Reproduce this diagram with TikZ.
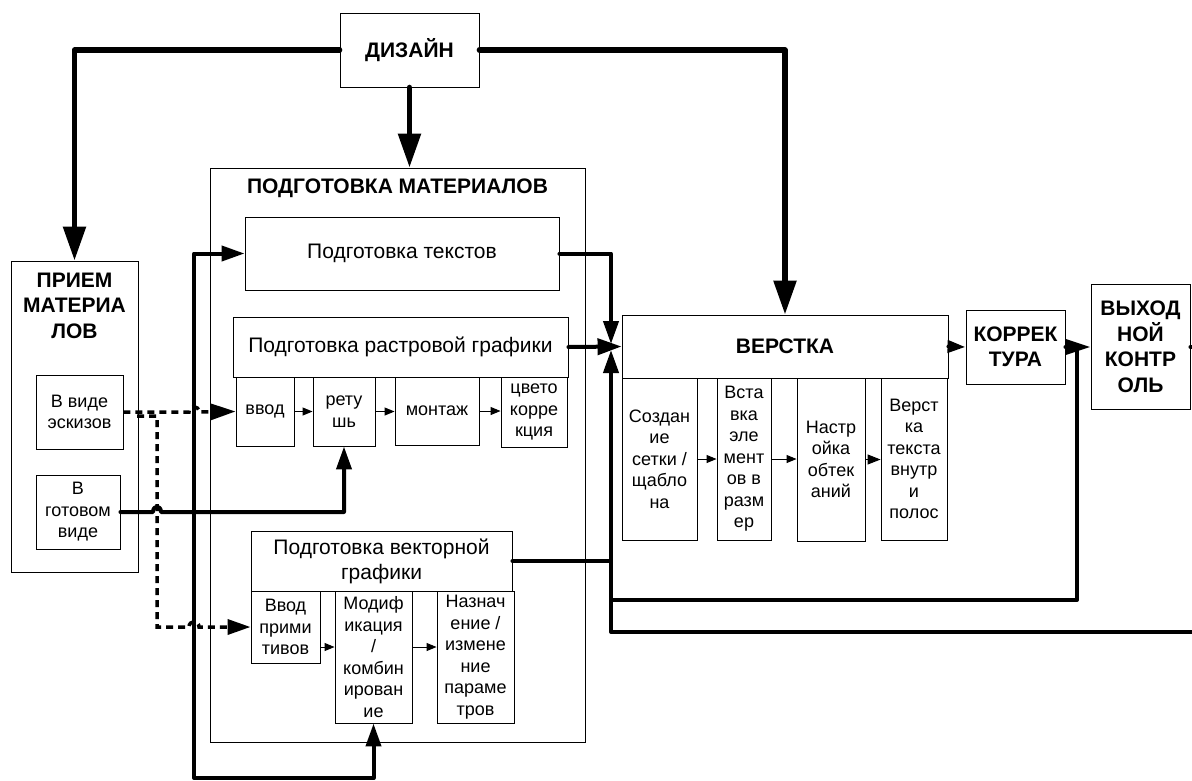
\documentclass[tikz,border=0pt]{standalone}
\usepackage{fontspec}
\setmainfont{Liberation Sans}
\usetikzlibrary{arrows.meta}
\newcommand\fsmall{\fontsize{18}{21.5}\selectfont}
\newcommand\fmid{\fontsize{21}{25}\selectfont}
\newcommand\fbold{\fontsize{21}{25.5}\selectfont\bfseries}
\tikzset{
  bx/.style={draw, line width=0.9pt, inner sep=0pt, align=center, font=\fsmall},
  thk/.style={line width=4pt, line cap=round, line join=round},
  dzn/.style={line width=5.5pt, line cap=round, line join=round},
  dotln/.style={line width=3.5pt, dash pattern=on 7pt off 5pt},
  thinln/.style={line width=1pt},
  big/.style={-{Triangle[length=34pt,width=22pt]}},
  med/.style={-{Triangle[length=23pt,width=15pt]}},
  sml/.style={-{Triangle[length=10pt,width=8pt]}},
  smb/.style={-{Triangle[length=13pt,width=10pt]}}
}
\begin{document}
\begin{tikzpicture}[x=1pt,y=-1pt]
\useasboundingbox (0,0) rectangle (1192,780);
% outer boxes
\node[bx, minimum width=375, minimum height=574] (podgot) at (397.5,455) {};
\node[inner sep=0pt, font=\fbold] (podgottitle) at (397.5,188) {ПОДГОТОВКА МАТЕРИАЛОВ};
\node[bx, minimum width=127, minimum height=311] (priem) at (74.5,416.5) {};
\node[inner sep=0pt, align=center, font=\fbold] (priemtitle) at (74.5,305.5) {ПРИЕМ\\МАТЕРИА\\ЛОВ};
% top
\node[bx, font=\fbold, minimum width=139, minimum height=74] (dizain) at (409.5,50) {ДИЗАЙН};
% left boxes
\node[bx, minimum width=87, minimum height=74] (eskiz) at (79.5,412) {В виде\\эскизов};
\node[bx, minimum width=84, minimum height=74] (gotov) at (78,512) {В\\готовом\\виде};
% preparation
\node[bx, font=\fmid, minimum width=314, minimum height=73] (teksty) at (402,253.5) {Подготовка текстов};
\node[bx, font=\fmid, minimum width=335, minimum height=60] (rastr) at (400.5,347) {Подготовка растровой графики};
\node[bx, minimum width=58, minimum height=69] (vvod) at (265,411.5) {ввод};
\node[bx, minimum width=62, minimum height=69] (retush) at (344,411.5) {рету\\шь};
\node[bx, minimum width=84, minimum height=68] (montazh) at (437,411) {монтаж};
\node[bx, minimum width=66, minimum height=70] (cveto) at (534,412) {цвето\\корре\\кция};
\node[bx, font=\fmid, minimum width=261, minimum height=60] (vektor) at (381.5,561) {Подготовка векторной\\графики};
\node[bx, minimum width=69, minimum height=72] (vvodprim) at (285.5,627) {Ввод\\прими\\тивов};
\node[bx, minimum width=77, minimum height=132] (modif) at (373.5,657) {Модиф\\икация\\/\\комбин\\ирован\\ие};
\node[bx, minimum width=77, minimum height=132] (naznach) at (475.5,657) {Назнач\\ение /\\измене\\ние\\параме\\тров};
% layout
\node[bx, font=\fbold, minimum width=326, minimum height=63] (verstka) at (785,346.5) {ВЕРСТКА};
\node[bx, minimum width=75, minimum height=162] (sozd) at (659.5,459) {Создан\\ие\\сетки /\\щабло\\на};
\node[bx, minimum width=54, minimum height=162] (vstavka) at (744,459) {Вста\\вка\\эле\\мент\\ов в\\разм\\ер};
\node[bx, minimum width=68, minimum height=163] (nastr) at (831,459.5) {Настр\\ойка\\обтек\\аний};
\node[bx, minimum width=66, minimum height=162] (verstteksta) at (914,459) {Верст\\ка\\текста\\внутр\\и\\полос};
\node[bx, font=\fbold, minimum width=99, minimum height=74] (korr) at (1015.5,347) {КОРРЕК\\ТУРА};
\node[bx, font=\fbold, minimum width=99, minimum height=125] (vyhod) at (1140.5,347) {ВЫХОД\\НОЙ\\КОНТР\\ОЛЬ};
% coordinates
\coordinate (jt) at (611,344);
\coordinate (jb) at (611,350);
\coordinate (vj) at (vektor.east -| jb);
\coordinate (c1) at (611,600);
\coordinate (edge1) at (1192,632);
\coordinate (kj) at (1077,347);
\coordinate (g1) at (194,512);
\coordinate (g2) at (194,778);
\coordinate (br) at (137,416);
\coordinate (a1) at ([yshift=-20pt]vvodprim.east);
% design connectors
\draw[dzn,big] (dizain.west) -| (priem.north);
\draw[dzn,big] (dizain.south) -- (dizain.south |- podgot.north);
\draw[dzn,big] (dizain.east) -| (verstka.north);
% into layout
\draw[thk,med] (teksty.east) -| (jt);
\draw[thk,-{Triangle[length=24pt,width=16pt]}] (rastr.east) -- (verstka.west);
\draw[thk,med] (vektor.east) -| (jb);
\draw[thk] (vj) |- (edge1);
\draw[thk] (c1) -| (kj);
\draw[thk,-{Triangle[length=18pt,width=12pt]}] (verstka.east) -- (korr.west);
\draw[thk,-{Triangle[length=25pt,width=15pt]}] (korr.east) -- (vyhod.west);
\draw[thk] (vyhod.east) -- ++(8,0);
% ready materials
\draw[thk,med] (gotov.east) -- (153,512) .. controls (153,505) and (161,505) .. (161,512) -| (retush.south);
\draw[thk,med] (g1) |- (teksty.west);
\draw[thk,med] (g1) -- (g2) -| (modif.south);
% sketches (dotted)
\draw[dotln,-{Triangle[length=25pt,width=16pt]}] (eskiz.east) -- (189,412) .. controls (189,405) and (199,405) .. (199,412) -- (vvod.west);
\draw[dotln,med] (br) -- (157,416) -- (157,627) -- (189,627) .. controls (189,620) and (199,620) .. (199,627) -- (vvodprim.west);
% small arrows
\draw[thinln,sml] (vvod.east) -- (retush.west);
\draw[thinln,sml] (retush.east) -- (retush.east -| montazh.west);
\draw[thinln,sml] (montazh.east) -- (montazh.east -| cveto.west);
\draw[thinln,sml] (a1) -- (a1 -| modif.west);
\draw[thinln,sml] (a1 -| modif.east) -- (a1 -| naznach.west);
\draw[thinln,sml] (sozd.east) -- (sozd.east -| vstavka.west);
\draw[thinln,sml] (vstavka.east) -- (vstavka.east -| nastr.west);
\draw[thinln,smb] (nastr.east) -- (nastr.east -| verstteksta.west);
\end{tikzpicture}
\end{document}
